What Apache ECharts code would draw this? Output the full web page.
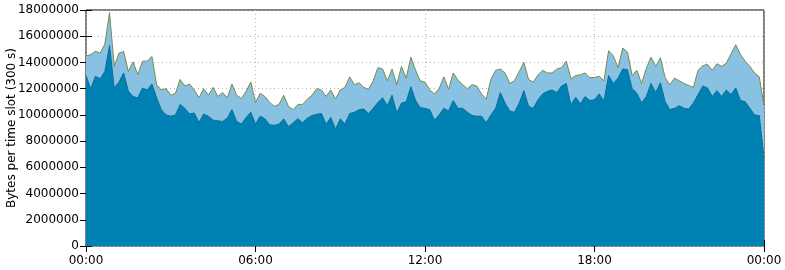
<!DOCTYPE html>
<html>
<head>
<meta charset="utf-8">
<script src="https://cdn.jsdelivr.net/npm/echarts@6/dist/echarts.min.js"></script>
<style>
  html, body { margin: 0; padding: 0; background: #fff; }
  #chart { width: 785px; height: 270px; }
</style>
</head>
<body>
<div id="chart"></div>
<script>
// Slot spacing (minutes) of the sampled values below, starting at 00:00
const stepMinutes = 10;

// Total bytes per time slot (top edge of light area)
const totalBytes = [
  14.5e6, 14.6e6, 14.85e6, 14.7e6, 15.4e6, 17.8e6, 13.7e6, 14.7e6, 14.85e6, 13.3e6,
  14.05e6, 13.05e6, 14.1e6, 14.1e6, 14.45e6, 12.3e6, 11.9e6, 12.0e6, 11.5e6, 11.65e6,
  12.7e6, 12.2e6, 12.35e6, 11.9e6, 11.3e6, 12.0e6, 11.5e6, 12.1e6, 11.4e6, 11.7e6,
  11.3e6, 12.35e6, 11.5e6, 11.25e6, 11.8e6, 12.5e6, 10.95e6, 11.65e6, 11.4e6, 10.95e6,
  10.65e6, 10.8e6, 11.5e6, 10.65e6, 10.4e6, 10.8e6, 10.8e6, 11.2e6, 11.5e6, 12.0e6,
  11.9e6, 11.4e6, 11.9e6, 11.2e6, 11.9e6, 12.1e6, 12.9e6, 12.3e6, 12.45e6, 12.1e6,
  11.95e6, 12.6e6, 13.6e6, 13.5e6, 12.6e6, 13.5e6, 12.3e6, 13.7e6, 12.8e6, 14.4e6,
  13.4e6, 12.6e6, 12.5e6, 11.9e6, 11.6e6, 12.0e6, 12.9e6, 11.95e6, 13.2e6, 12.65e6,
  12.3e6, 12.0e6, 12.3e6, 12.2e6, 11.6e6, 11.2e6, 12.7e6, 13.4e6, 13.5e6, 13.2e6,
  12.4e6, 12.6e6, 13.3e6, 14.0e6, 12.7e6, 12.5e6, 13.05e6, 13.4e6, 13.2e6, 13.2e6,
  13.5e6, 13.6e6, 14.1e6, 12.75e6, 13.0e6, 13.05e6, 13.2e6, 12.85e6, 12.85e6, 12.95e6,
  12.6e6, 14.9e6, 14.5e6, 13.6e6, 15.1e6, 14.8e6, 13.0e6, 13.4e6, 12.4e6, 13.55e6,
  14.4e6, 13.7e6, 14.35e6, 12.85e6, 12.3e6, 12.8e6, 12.6e6, 12.4e6, 12.25e6, 12.1e6,
  13.4e6, 13.75e6, 13.85e6, 13.4e6, 13.9e6, 13.7e6, 13.95e6, 14.65e6, 15.35e6, 14.6e6,
  14.1e6, 13.7e6, 13.2e6, 12.9e6, 10.7e6
];

// Lower component bytes per time slot (top edge of dark area)
const lowerBytes = [
  13.0e6, 12.0e6, 12.94e6, 12.76e6, 13.3e6, 15.3e6, 12.05e6, 12.5e6, 13.2e6, 11.8e6,
  11.4e6, 11.3e6, 12.05e6, 11.9e6, 12.35e6, 11.3e6, 10.4e6, 10.0e6, 9.9e6, 10.0e6,
  10.8e6, 10.5e6, 10.07e6, 10.15e6, 9.43e6, 10.07e6, 9.9e6, 9.6e6, 9.55e6, 9.5e6,
  9.75e6, 10.4e6, 9.5e6, 9.3e6, 9.8e6, 10.2e6, 9.3e6, 9.9e6, 9.7e6, 9.25e6,
  9.2e6, 9.3e6, 9.7e6, 9.1e6, 9.4e6, 9.7e6, 9.4e6, 9.75e6, 9.95e6, 10.05e6,
  10.1e6, 9.3e6, 9.8e6, 8.9e6, 9.7e6, 9.3e6, 10.1e6, 10.2e6, 10.4e6, 10.45e6,
  10.1e6, 10.5e6, 10.95e6, 11.3e6, 10.7e6, 11.5e6, 10.15e6, 10.9e6, 11.0e6, 12.15e6,
  11.1e6, 10.55e6, 10.5e6, 10.4e6, 9.6e6, 10.0e6, 10.5e6, 10.3e6, 11.1e6, 10.5e6,
  10.5e6, 10.2e6, 9.95e6, 9.9e6, 9.9e6, 9.4e6, 10.0e6, 10.5e6, 11.7e6, 10.9e6,
  10.3e6, 10.2e6, 10.9e6, 11.85e6, 10.65e6, 10.5e6, 11.15e6, 11.6e6, 11.8e6, 11.9e6,
  11.7e6, 12.2e6, 12.4e6, 10.75e6, 11.35e6, 10.85e6, 11.4e6, 11.1e6, 11.15e6, 11.6e6,
  11.05e6, 13.0e6, 12.4e6, 12.8e6, 13.5e6, 13.45e6, 12.0e6, 11.65e6, 10.9e6, 11.4e6,
  12.4e6, 11.7e6, 12.45e6, 11.0e6, 10.4e6, 10.5e6, 10.7e6, 10.5e6, 10.45e6, 10.9e6,
  11.55e6, 12.2e6, 12.05e6, 11.4e6, 11.85e6, 11.4e6, 11.9e6, 11.55e6, 12.05e6, 11.1e6,
  11.0e6, 10.5e6, 10.0e6, 9.95e6, 6.7e6
];

// Axis ticks
const xTickLabels = ['00:00', '06:00', '12:00', '18:00', '00:00'];
const xTickStepMinutes = 360;
const yMax = 18000000;
const yStep = 2000000;
const yAxisTitle = 'Bytes per time slot (300 s)';

const FONT = 'DejaVu Sans';
const toPairs = arr => arr.map((v, i) => [i * stepMinutes, v]);

const chart = echarts.init(document.getElementById('chart'), null, { renderer: 'canvas' });

const gridLineStyle = { color: '#b4b4b4', width: 1, type: [1, 3] };

chart.setOption({
  animation: false,
  backgroundColor: '#ffffff',
  grid: {
    left: 86, right: 21, top: 10, bottom: 24,
    containLabel: false, outerBoundsMode: 'none',
    show: true, borderColor: '#000', borderWidth: 1, backgroundColor: 'transparent'
  },
  xAxis: [
    {
      type: 'value', min: 0, max: (xTickLabels.length - 1) * xTickStepMinutes, interval: xTickStepMinutes,
      position: 'bottom',
      axisLine: { show: false },
      axisTick: { show: true, inside: true, length: 6, lineStyle: { color: '#000' } },
      axisLabel: {
        margin: 9, color: '#000', fontFamily: FONT, fontSize: 12,
        formatter: v => xTickLabels[Math.round(v / xTickStepMinutes)]
      },
      splitLine: { show: true, lineStyle: gridLineStyle }
    },
    {
      type: 'value', min: 0, max: (xTickLabels.length - 1) * xTickStepMinutes, interval: xTickStepMinutes,
      position: 'top',
      axisLine: { show: false },
      axisTick: { show: true, inside: true, length: 6, lineStyle: { color: '#000' } },
      axisLabel: { show: false },
      splitLine: { show: false }
    }
  ],
  yAxis: [
    {
      type: 'value', min: 0, max: yMax, interval: yStep, position: 'left',
      name: yAxisTitle, nameLocation: 'middle', nameGap: 68, nameMoveOverlap: false,
      nameTextStyle: { color: '#000', fontFamily: FONT, fontSize: 12 },
      axisLine: { show: false },
      axisTick: { show: true, inside: true, length: 6, lineStyle: { color: '#000' } },
      axisLabel: { margin: 7, color: '#000', fontFamily: FONT, fontSize: 12, formatter: v => String(v) },
      splitLine: { show: true, lineStyle: gridLineStyle }
    },
    {
      type: 'value', min: 0, max: yMax, interval: yStep, position: 'right',
      axisLine: { show: false },
      axisTick: { show: true, inside: true, length: 6, lineStyle: { color: '#000' } },
      axisLabel: { show: false },
      splitLine: { show: false }
    }
  ],
  series: [
    {
      name: 'total', type: 'line', xAxisIndex: 0, yAxisIndex: 0,
      data: toPairs(totalBytes), showSymbol: false, symbol: 'none',
      lineStyle: { color: '#7a8a48', width: 1 },
      areaStyle: { color: '#88c1e1', opacity: 1, origin: 'start' },
      z: 2
    },
    {
      name: 'lower', type: 'line', xAxisIndex: 0, yAxisIndex: 0,
      data: toPairs(lowerBytes), showSymbol: false, symbol: 'none',
      lineStyle: { color: '#0b6f9a', width: 1 },
      areaStyle: { color: '#0081b4', opacity: 1, origin: 'start' },
      z: 3
    }
  ]
});
</script>
</body>
</html>
